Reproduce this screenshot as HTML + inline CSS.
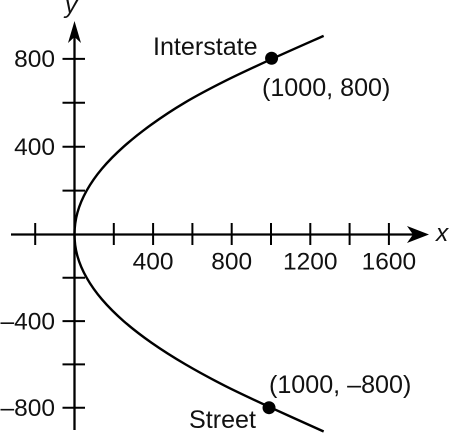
<!DOCTYPE html>
<html>
<head>
<meta charset="utf-8">
<style>
html,body{margin:0;padding:0;background:#fff;}
svg{display:block;}
text{font-family:"Liberation Sans",sans-serif;font-size:24.5px;fill:#111;}
text.wide{font-size:25.1px;}
</style>
</head>
<body>
<svg id="chart" width="450" height="433" viewBox="0 0 450 433" xmlns="http://www.w3.org/2000/svg">
  <rect width="450" height="433" fill="#fff"/>
  <line x1="11" y1="234.5" x2="420" y2="234.5" stroke="#000" stroke-width="2.3"/>
  <line x1="74.5" y1="30" x2="74.5" y2="430" stroke="#000" stroke-width="2.3"/>
  <path d="M429 234.5 L407 226 L413 234.5 L407 243 Z" fill="#000"/>
  <path d="M74.5 21 L68 43 L74.5 37 L81 43 Z" fill="#000"/>
  <text x="436" y="241" font-style="italic">x</text>
  <text x="65" y="13" font-style="italic">y</text>
  <g id="ticks"></g>
  <g id="labels"></g>
  <path id="curve" fill="none" stroke="#000" stroke-width="2.4"/>
  <g id="points"></g>
  <text class="wide" x="153" y="55">Interstate</text>
  <text class="wide" x="262" y="96">(1000, 800)</text>
  <text class="wide" x="269" y="393">(1000, –800)</text>
  <text class="wide" x="189" y="428">Street</text>
</svg>
<script>
const xTicks = [-200, 200, 400, 600, 800, 1000, 1200, 1400, 1600];
const yTicks = [-800, -600, -400, -200, 200, 400, 600, 800];
const xTickLabels = [400, 800, 1200, 1600];
const yTickLabels = [800, 400, -400, -800];
const curveY = [-910, -800, -700, -600, -500, -400, -300, -200, -100, 0, 100, 200, 300, 400, 500, 600, 700, 800, 905];
const curveX = [1268, 1000, 768, 565, 392, 250, 140, 62, 15, 0, 15, 62, 140, 250, 390, 560, 768, 1005, 1268];
const pointX = [1003, 990];
const pointY = [803, -800];

const NS = 'http://www.w3.org/2000/svg';
function sx(v) { return 74.5 + v * 0.1965; }
function sy(v) { return 234.5 - v * (v >= 0 ? 0.2195 : 0.2165); }
function make(tag, attrs) {
  const el = document.createElementNS(NS, tag);
  for (const k in attrs) el.setAttribute(k, attrs[k]);
  return el;
}

const ticksGroup = document.getElementById('ticks');
xTicks.forEach(function (v) {
  const el = make('line', { x1: sx(v), x2: sx(v), y1: 223, y2: 245, stroke: '#000', 'stroke-width': 2 });
  
  
  ticksGroup.appendChild(el);
});
yTicks.forEach(function (v) {
  const el = make('line', { x1: 62.5, x2: 85, y1: sy(v), y2: sy(v), stroke: '#000', 'stroke-width': 2 });
  
  
  ticksGroup.appendChild(el);
});

const labelsGroup = document.getElementById('labels');
xTickLabels.forEach(function (v) {
  const el = make('text', { x: sx(v), y: 269.5, 'text-anchor': 'middle' });
  el.textContent = String(v);
  
  
  labelsGroup.appendChild(el);
});
yTickLabels.forEach(function (v) {
  const el = make('text', { x: 55, y: sy(v) + 8.3, 'text-anchor': 'end' });
  el.textContent = v < 0 ? '–' + Math.abs(v) : String(v);
  
  
  labelsGroup.appendChild(el);
});

const pts = curveY.map(function (y, i) { return [sx(curveX[i]), sy(y)]; });
let d = 'M' + pts[0][0] + ' ' + pts[0][1];
for (let i = 0; i < pts.length - 1; i++) {
  const p0 = pts[Math.max(i - 1, 0)];
  const p1 = pts[i];
  const p2 = pts[i + 1];
  const p3 = pts[Math.min(i + 2, pts.length - 1)];
  d += ' C' + (p1[0] + (p2[0] - p0[0]) / 6) + ' ' + (p1[1] + (p2[1] - p0[1]) / 6) +
       ' ' + (p2[0] - (p3[0] - p1[0]) / 6) + ' ' + (p2[1] - (p3[1] - p1[1]) / 6) +
       ' ' + p2[0] + ' ' + p2[1];
}
document.getElementById('curve').setAttribute('d', d);

const pointsGroup = document.getElementById('points');
pointX.forEach(function (x, i) {
  const el = make('circle', { cx: sx(x), cy: sy(pointY[i]), r: 6.5, fill: '#000' });
  
  
  pointsGroup.appendChild(el);
});
</script>
</body>
</html>
